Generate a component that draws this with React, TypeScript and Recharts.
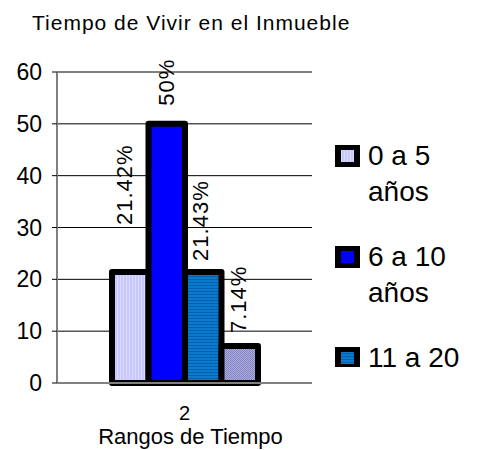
import React from 'react';
import { BarChart, Bar, XAxis, YAxis, CartesianGrid, Label } from 'recharts';

const categories = ['2'];
const seriesNames = ['0 a 5 años', '6 a 10 años', '11 a 20 años', 'Más de 20 años'];
const seriesValues = [21.42, 50, 21.43, 7.14];
const yTicks = [0, 10, 20, 30, 40, 50, 60];

const seriesFills = ['url(#pat0)', '#0000FF', 'url(#pat2)', 'url(#pat3)'];
// where Excel put each value label (px left of bar centre / px above bar top)
const labelShift = [
    { dx: -6, gap: 47 },
    { dx: -1, gap: 18 },
    { dx: -3, gap: 11 },
    { dx: -2, gap: 13 },
];

const data = categories.map((name) => {
    const row: Record<string, string | number> = { name };
    seriesValues.forEach((v, i) => {
        row[`s${i}`] = v;
    });
    return row;
});

const AXIS_GRAY = '#808080';
const FONT = '"Liberation Sans", Arial, sans-serif';

const makeLabel = (si: number) => (props: any) => {
    const cx = Number(props.x) + Number(props.width) / 2 + labelShift[si].dx;
    const by = Number(props.y) - labelShift[si].gap;
    return (
        <text
            x={cx}
            y={by}
            dy="0.36em"
            transform={`rotate(-90 ${cx} ${by})`}
            textAnchor="start"
            fontFamily={FONT}
            fontSize={22}
            letterSpacing={1}
            fill="#000"
        >
            {`${props.value}%`}
        </text>
    );
};

const XTick = (props: any) => (
    <text x={props.x} y={props.y + 37} textAnchor="middle" fontFamily={FONT} fontSize={20} fill="#000">
        {props.payload.value}
    </text>
);

const Swatch = ({ fill }: { fill: string }) => (
    <svg width={25} height={22} style={{ display: 'block', flex: 'none', marginTop: 7 }}>
        <rect x={0} y={0} width={25} height={22} fill="#000" />
        <rect x={6} y={5} width={13} height={12} fill={fill} />
    </svg>
);

const App = () => {
    return (
        <div style={{ position: 'absolute', left: 0, top: 0, width: 487, height: 450, background: '#fff' }}>
            <div
                style={{
                    position: 'absolute',
                    left: 32,
                    top: 12,
                    fontFamily: FONT,
                    fontSize: 21,
                    lineHeight: '21px',
                    letterSpacing: 1,
                    whiteSpace: 'nowrap',
                    color: '#000',
                }}
            >
                Tiempo de Vivir en el Inmueble
            </div>

            <BarChart
                width={487}
                height={450}
                data={data}
                margin={{ top: 72, right: 175, left: 0, bottom: 0 }}
                barGap={0}
                style={{ position: 'absolute', left: 0, top: 0 }}
            >
                <defs>
                    <pattern id="pat0" width={3} height={3} patternUnits="userSpaceOnUse">
                        <rect width={3} height={3} fill="#C8C8FF" />
                        <rect width={1} height={3} fill="#DCDCFF" />
                    </pattern>
                    <pattern id="pat2" width={3} height={3} patternUnits="userSpaceOnUse">
                        <rect width={3} height={3} fill="#0A7ACC" />
                        <rect width={3} height={1} fill="#0060B0" />
                    </pattern>
                    <pattern id="pat3" width={2} height={2} patternUnits="userSpaceOnUse">
                        <rect width={2} height={2} fill="#AAAADD" />
                        <rect width={1} height={1} fill="#8585C4" />
                        <rect x={1} y={1} width={1} height={1} fill="#8585C4" />
                    </pattern>
                </defs>
                <CartesianGrid vertical={false} stroke="#000" strokeWidth={1} />
                <XAxis
                    dataKey="name"
                    height={67}
                    axisLine={{ stroke: AXIS_GRAY, strokeWidth: 2 }}
                    tickLine={false}
                    tickSize={0}
                    tickMargin={0}
                    tick={<XTick />}
                >
                    <Label
                        value="Rangos de Tiempo"
                        position="insideBottom"
                        offset={6}
                        dx={6}
                        fontFamily={FONT}
                        fontSize={22}
                        fill="#000"
                    />
                </XAxis>
                <XAxis
                    xAxisId="top"
                    dataKey="name"
                    orientation="top"
                    height={0}
                    tick={false}
                    tickLine={false}
                    axisLine={{ stroke: AXIS_GRAY, strokeWidth: 2 }}
                />
                <YAxis
                    width={57}
                    domain={[0, 60]}
                    ticks={yTicks}
                    interval={0}
                    axisLine={{ stroke: AXIS_GRAY, strokeWidth: 2 }}
                    tickLine={{ stroke: '#000' }}
                    tickSize={5}
                    tickMargin={10}
                    tick={{ fontFamily: FONT, fontSize: 23, fill: '#000' }}
                />
                <YAxis
                    yAxisId="right"
                    orientation="right"
                    width={0}
                    domain={[0, 60]}
                    tick={false}
                    tickLine={false}
                    axisLine={{ stroke: AXIS_GRAY, strokeWidth: 2 }}
                />
                {seriesNames.map((name, i) => (
                    <Bar
                        key={name}
                        dataKey={`s${i}`}
                        name={name}
                        fill={seriesFills[i]}
                        stroke="#000"
                        strokeWidth={6}
                        strokeLinejoin="round"
                        barSize={36.5}
                        isAnimationActive={false}
                        label={makeLabel(i)}
                    />
                ))}
            </BarChart>

            <div
                style={{
                    position: 'absolute',
                    left: 335,
                    top: 138,
                    height: 229,
                    width: 150,
                    overflow: 'hidden',
                    fontFamily: FONT,
                    fontSize: 28,
                    lineHeight: '36px',
                    color: '#000',
                }}
            >
                {seriesNames.map((name, i) => (
                    <div key={name} style={{ display: 'flex', gap: 8, marginBottom: 29 }}>
                        <Swatch fill={seriesFills[i]} />
                        <div style={{ width: 100 }}>{name}</div>
                    </div>
                ))}
            </div>
        </div>
    );
};

export default App;
